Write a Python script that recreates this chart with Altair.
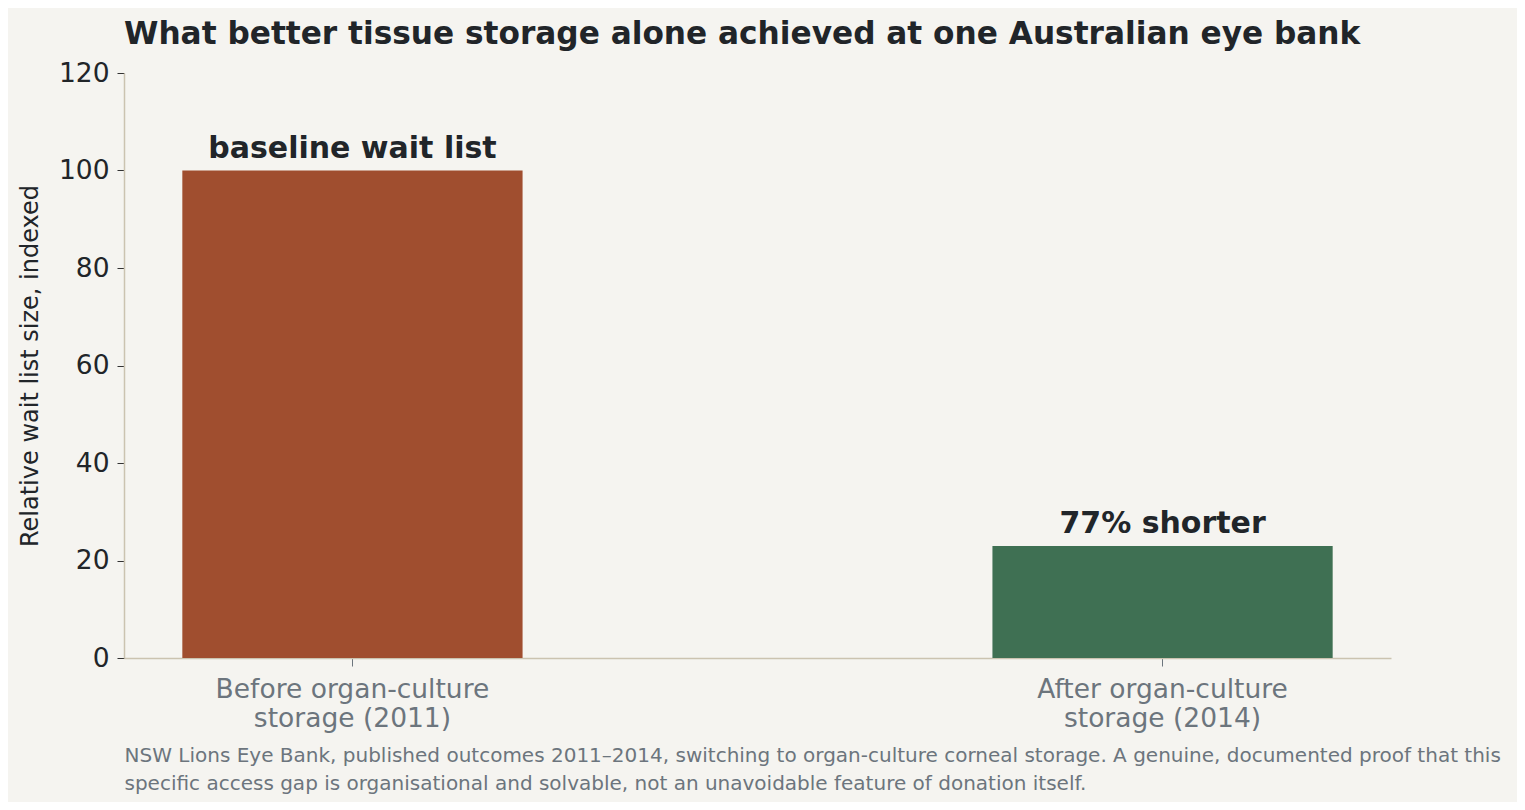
import altair as alt
import pandas as pd

periods = ["Before organ-culture storage (2011)", "After organ-culture storage (2014)"]
wait_index = [100, 23]
notes = ["baseline wait list", "77% shorter"]
bar_colors = ["#a04e2f", "#3f7053"]

caption = [
    "NSW Lions Eye Bank, published outcomes 2011\u20132014, switching to organ-culture corneal storage. A genuine, documented proof that this",
    "specific access gap is organisational and solvable, not an unavoidable feature of donation itself.",
]

df = pd.DataFrame({"period": periods, "index": wait_index, "note": notes})

x_enc = alt.X(
    "period:N",
    sort=periods,
    scale=alt.Scale(paddingInner=0.58, paddingOuter=0.072),
    axis=alt.Axis(
        title=caption,
        titleAnchor="start",
        titleAlign="left",
        titleFontSize=20,
        titleFontWeight="normal",
        titleColor="#6c757d",
        titleLineHeight=28,
        titlePadding=14,
        labelAngle=0,
        labelFontSize=26.5,
        labelColor="#6c757d",
        labelLineHeight=29,
        labelPadding=10,
        labelLimit=0,
        labelExpr="[slice(datum.label, 0, indexof(datum.label, ' storage')), slice(datum.label, indexof(datum.label, ' storage') + 1)]",
        tickColor="#6c757d",
        tickSize=8,
        domainColor="#cbc3b0",
        domainWidth=1.5,
    ),
)

y_enc = alt.Y(
    "index:Q",
    scale=alt.Scale(domain=[0, 120]),
    axis=alt.Axis(
        title="Relative wait list size, indexed",
        titleFontSize=24,
        titleFontWeight="normal",
        titleColor="#212529",
        titlePadding=16,
        values=[0, 20, 40, 60, 80, 100, 120],
        labelFontSize=26.5,
        labelColor="#212529",
        labelPadding=8,
        tickColor="#333333",
        tickSize=7,
        domainColor="#cbc3b0",
        domainWidth=1.5,
        grid=False,
    ),
)

base = alt.Chart(df).encode(x=x_enc, y=y_enc)

bars = base.mark_bar().encode(
    color=alt.Color("period:N", scale=alt.Scale(domain=periods, range=bar_colors), legend=None)
)

labels = base.mark_text(
    baseline="alphabetic", dy=-13, fontSize=30, fontWeight="bold", color="#212529"
).encode(text="note:N")

chart = (
    (bars + labels)
    .properties(
        width=1267,
        height=585,
        autosize=alt.AutoSizeParams(type="none"),
        padding={"left": 116, "top": 65, "right": 126, "bottom": 144},
        background="#f5f4f0",
        title=alt.TitleParams(
            "What better tissue storage alone achieved at one Australian eye bank",
            anchor="start",
            frame="group",
            fontSize=31.2,
            fontWeight="bold",
            color="#212529",
            offset=10,
        ),
    )
    .configure(font="DejaVu Sans")
    .configure_view(stroke=None)
)

chart.save("out.html", embed_options={"renderer": "svg", "actions": False})
